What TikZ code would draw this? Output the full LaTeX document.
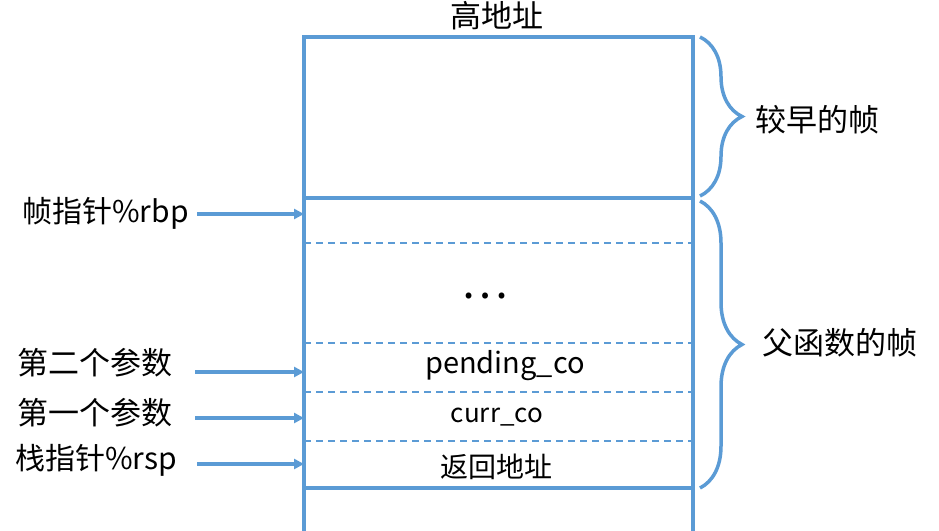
\documentclass[tikz,border=0pt]{standalone}
\usepackage{fontspec}
\setmainfont{Noto Sans CJK SC}
\usetikzlibrary{arrows.meta,decorations.pathreplacing}
\definecolor{stackblue}{RGB}{91,155,213}
\begin{document}
\begin{tikzpicture}[x=1pt,y=-1pt,
    frame/.style={stackblue,line width=3.5pt},
    slot/.style={stackblue,line width=1.4pt,dash pattern=on 7pt off 5pt},
    ptr/.style={stackblue,line width=3.5pt,-{Triangle[length=10pt,width=10pt]}},
    grp/.style={stackblue,line width=3.5pt,decorate,decoration={brace,amplitude=42pt}},
    big/.style={font=\fontsize{31}{31}\selectfont,inner sep=0pt},
    cell/.style={font=\fontsize{28}{28}\selectfont,inner sep=0pt}]
  \useasboundingbox (0,0) rectangle (939,530);

  % stack frame outline
  \coordinate (tl) at (304,37);
  \coordinate (tr) at (693,37);
  \draw[frame] (304,532) -- (tl) -- (tr) -- (693,532);
  \draw[frame] (304,198) -- (693,198);
  \draw[frame] (304,488) -- (693,488);
  \draw[slot] (304,243) -- (693,243);
  \draw[slot] (304,343) -- (693,343);
  \draw[slot] (304,392) -- (693,392);
  \draw[slot] (304,441) -- (693,441);

  \node[big] (high) at (497,16) {高地址};
  \node[font=\fontsize{44}{44}\selectfont,inner sep=0pt] (dots) at (485,296) {…};
  \node[cell,font=\fontsize{29}{29}\selectfont] (pend) at (505,366) {pending\_co};
  \node[cell,font=\fontsize{26}{26}\selectfont] (curr) at (497,417) {curr\_co};
  \node[cell] (ret) at (496,467) {返回地址};

  % pointers on the left
  \node[big,anchor=west,font=\fontsize{30}{30}\selectfont] (rbp) at (22,213) {帧指针\%rbp};
  \node[big,anchor=west] (arg2) at (17,363) {第二个参数};
  \node[big,anchor=west] (arg1) at (17,413) {第一个参数};
  \node[big,anchor=west,font=\fontsize{30}{30}\selectfont] (rsp) at (15,460) {栈指针\%rsp};

  \coordinate (rbpT) at (197,214);
  \coordinate (arg2T) at (195,372);
  \coordinate (arg1T) at (195,418);
  \coordinate (rspT) at (197,464);
  \draw[ptr] (rbpT) -- (rbpT -| tl);
  \draw[ptr] (arg2T) -- (arg2T -| tl);
  \draw[ptr] (arg1T) -- (arg1T -| tl);
  \draw[ptr] (rspT) -- (rspT -| tl);

  % braces on the right
  \draw[grp] (700,37) -- (700,196);
  \draw[grp] (700,201) -- (700,488);
  \node[big,anchor=west] (older) at (755,120) {较早的帧};
  \node[big,anchor=west] (parent) at (762,343) {父函数的帧};
\end{tikzpicture}
\end{document}
